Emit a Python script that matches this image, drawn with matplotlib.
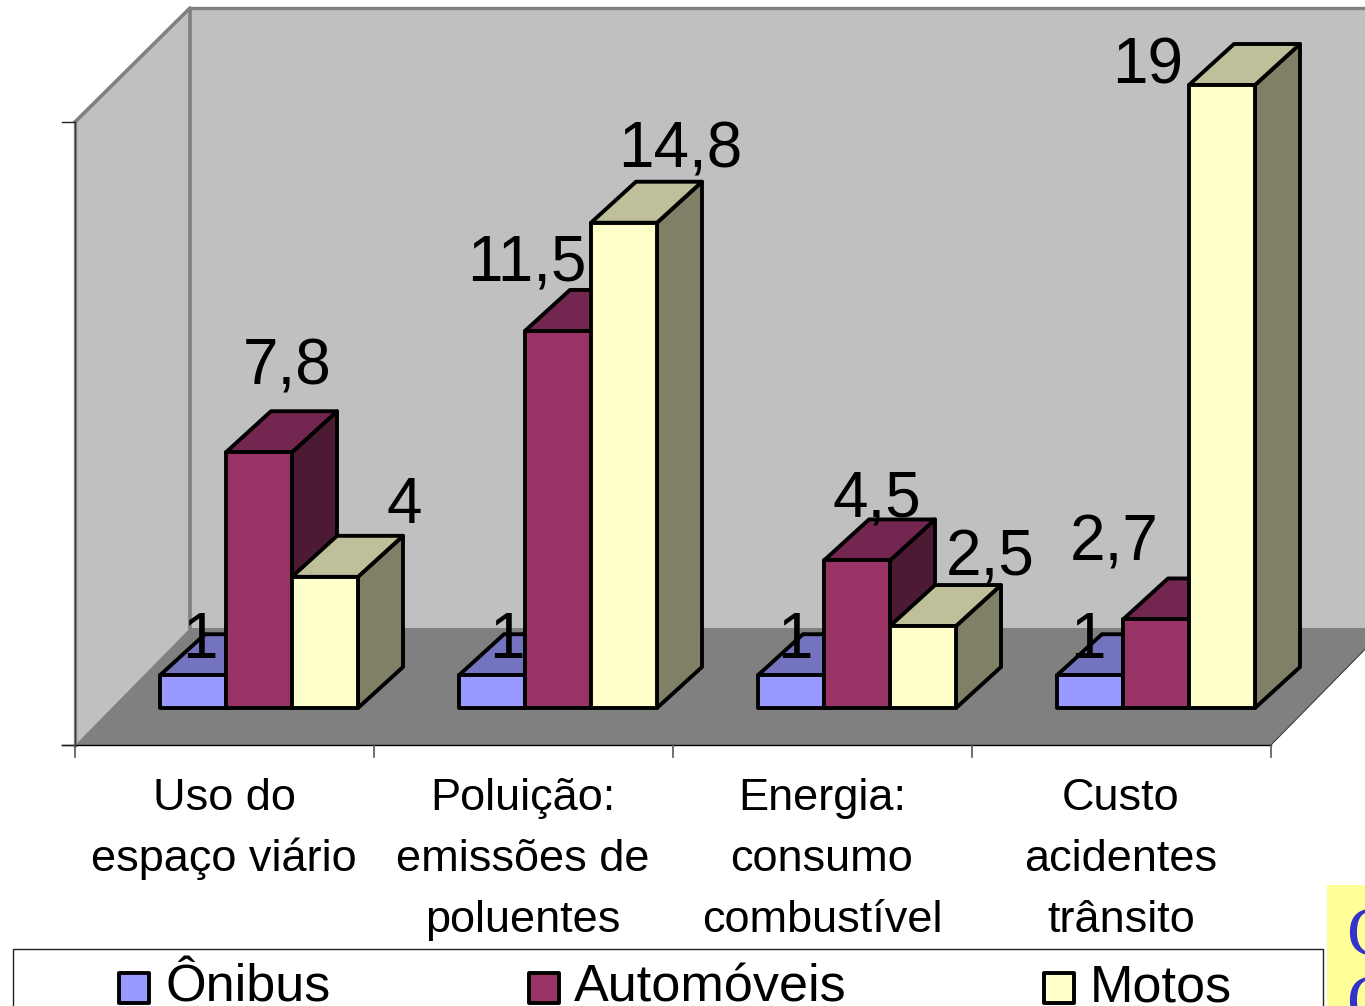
import matplotlib
matplotlib.use("Agg")
import matplotlib.pyplot as plt
from matplotlib.patches import Polygon, Rectangle

plt.rcParams["font.family"] = ["Liberation Sans", "DejaVu Sans"]

# data
categories = [
    ["Uso do", "espaço viário"],
    ["Poluição:", "emissões de", "poluentes"],
    ["Energia:", "consumo", "combustível"],
    ["Custo", "acidentes", "trânsito"],
]
series_names = ["Ônibus", "Automóveis", "Motos"]
onibus = [1, 1, 1, 1]
automoveis = [7.8, 11.5, 4.5, 2.7]
motos = [4, 14.8, 2.5, 19]
value_labels = [
    ["1", "1", "1", "1"],
    ["7,8", "11,5", "4,5", "2,7"],
    ["4", "14,8", "2,5", "19"],
]
y_ticks = [0, 19]

W, H = 1365, 1006
X0_PX, Y0_PX = 75, 745       # origin of the front plane
CAT_PX = 299                 # width of one category
UNIT_PX = 623 / 19           # height of one value unit
BAR_W = 66 / CAT_PX
BAR_START = 85 / CAT_PX      # first bar, from the category's left edge
BAR_DX, BAR_DY = 45 / CAT_PX, 41 / UNIT_PX       # depth of a bar
LIFT_Y = 37 / UNIT_PX        # bars stand this far into the floor
WALL_DX = 115 / CAT_PX       # depth of the box
WALL_TOP_DY, FLOOR_DY = 114 / UNIT_PX, 117 / UNIT_PX

FACES = [
    ("#9999FF", "#7373BF", "#4D4D80"),
    ("#993366", "#732650", "#4D1A33"),
    ("#FFFFCC", "#BFBF99", "#808066"),
]
# nudges of the value labels in pixels, from the top of each bar's front face
LABEL_NUDGE = [
    [(7, 17), (15, 17), (4, 17), (-2, 17)],
    [(28, 68), (-31, 50), (20, 44), (-42, 59)],
    [(79, 54), (56, 55), (67, 51), (-74, 2)],
]

fig = plt.figure(figsize=(W / 100, H / 100), dpi=100)
ax = fig.add_axes([0, 0, 1, 1])
ax.set_xlim(-X0_PX / CAT_PX, (W - X0_PX) / CAT_PX)
ax.set_ylim(-(H - Y0_PX) / UNIT_PX, Y0_PX / UNIT_PX)
ax.axis("off")

top = y_ticks[-1]
n_cat = len(categories)
px_x, px_y = 1 / CAT_PX, 1 / UNIT_PX

# walls and floor
ax.add_patch(Polygon([(WALL_DX, FLOOR_DY), (WALL_DX, top + WALL_TOP_DY), (5, top + WALL_TOP_DY), (5, FLOOR_DY)],
                     fc="#C0C0C0", ec="none", zorder=1))
ax.add_patch(Polygon([(0, 0), (0, top), (WALL_DX, top + WALL_TOP_DY), (WALL_DX, FLOOR_DY)],
                     fc="#C0C0C0", ec="none", zorder=1))
ax.plot([0, WALL_DX, WALL_DX], [top, top + WALL_TOP_DY, FLOOR_DY], color="#808080", lw=2.6, zorder=1.5)
ax.plot([WALL_DX, 5], [top + WALL_TOP_DY] * 2, color="#808080", lw=2.4, zorder=1.5)
ax.plot([0, 0], [0, top], color="#808080", lw=2.4, zorder=1.5)
ax.add_patch(Polygon([(0, 0), (n_cat, 0), (n_cat + WALL_DX, FLOOR_DY), (WALL_DX, FLOOR_DY)],
                     fc="#808080", ec="none", zorder=1.6))
ax.plot([n_cat, n_cat + WALL_DX], [0, FLOOR_DY], color="#404040", lw=0.8, zorder=1.7)

# axis lines and ticks
ax.plot([-13 * px_x, n_cat], [0, 0], color="black", lw=1, zorder=2)
for v in y_ticks:
    ax.plot([-13 * px_x, 0], [v, v], color="#222222", lw=1, zorder=2)
ax.plot([0, 0], [0, top], color="#333333", lw=0.7, zorder=2)
for i in range(n_cat + 1):
    ax.plot([i, i], [0, -12 * px_y], color="#555555", lw=1.2, zorder=2)

# bars, drawn left to right so the later ones cover the side of the earlier
z = 3
for c in range(n_cat):
    for s, values in enumerate([onibus, automoveis, motos]):
        front, upper, side = FACES[s]
        x = c + BAR_START + s * BAR_W
        y0, y1 = LIFT_Y, LIFT_Y + values[c]
        kw = dict(ec="black", lw=2.8, joinstyle="round", zorder=z)
        ax.add_patch(Polygon([(x + BAR_W, y0), (x + BAR_W + BAR_DX, y0 + BAR_DY),
                              (x + BAR_W + BAR_DX, y1 + BAR_DY), (x + BAR_W, y1)], fc=side, **kw))
        ax.add_patch(Polygon([(x, y1), (x + BAR_DX, y1 + BAR_DY),
                              (x + BAR_W + BAR_DX, y1 + BAR_DY), (x + BAR_W, y1)], fc=upper, **kw))
        ax.add_patch(Rectangle((x, y0), BAR_W, values[c], fc=front, **kw))
        z += 0.1

# value labels above everything
for s, values in enumerate([onibus, automoveis, motos]):
    for c in range(n_cat):
        x = c + BAR_START + s * BAR_W + BAR_W / 2
        ax.annotate(value_labels[s][c], (x, LIFT_Y + values[c]), xytext=LABEL_NUDGE[s][c],
                    textcoords="offset pixels", ha="center", va="baseline",
                    fontsize=46, color="black", zorder=20)

# category labels, one text per line
for c, lines in enumerate(categories):
    for k, line in enumerate(lines):
        ax.text(c + 0.5 - 0.5 * px_x, -(65 + 61 * k) * px_y, line, ha="center", va="baseline",
                fontsize=32.5, color="black", zorder=20)

# legend and the piece of the slide at the corner, placed in pixels
over = fig.add_axes([0, 0, 1, 1], facecolor="none")
over.set_xlim(0, W)
over.set_ylim(H, 0)
over.axis("off")
over.plot([13, 13, 1323, 1323], [H + 5, 949, 949, H + 5], color="#222222", lw=1, clip_on=True)
for name, faces, sx, tx in zip(series_names, FACES, [118, 528, 1043], [165, 574, 1090]):
    over.add_patch(Rectangle((sx + 1, 973), 30, 30, fc=faces[0], ec="black", lw=2.8, joinstyle="round"))
    over.text(tx, 1001, name, ha="left", va="baseline", fontsize=37.5, color="black", clip_on=True)

over.add_patch(Rectangle((1327, 885), W - 1327, H - 885, fc="#FFFF99", ec="none"))
for y in [956, 1024]:
    over.text(1346, y, "C", ha="left", va="baseline", family="Liberation Serif",
              fontsize=50, color="#3333CC", clip_on=True)

fig.savefig("out.png", dpi=100)
